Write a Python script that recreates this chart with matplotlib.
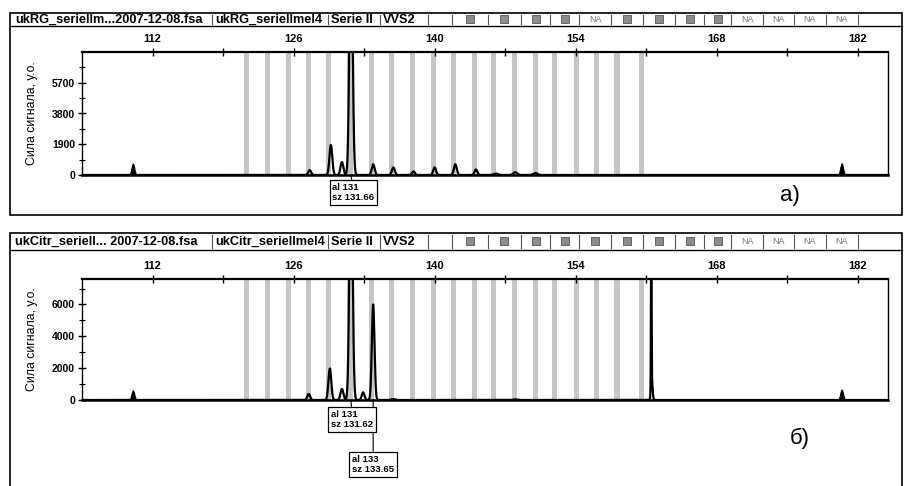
import matplotlib.pyplot as plt
import numpy as np
from matplotlib.patches import Rectangle
from matplotlib.lines import Line2D

W, H = 907, 486

# size scale (bp)
x_range = (105, 185)
x_major = [112, 126, 140, 154, 168, 182]
x_minor = [119, 133, 147, 161, 175]

# allele bins (bp)
bins = [121.3, 123.4, 125.45, 127.45, 129.5, 131.6, 133.7, 135.7, 137.8, 139.9,
        141.9, 144.0, 145.8, 147.9, 150.0, 151.9, 154.1, 156.1, 158.1, 160.5]

# panel a) peaks: position (bp), height (RFU), width (bp)
a_pos = [127.6, 129.7, 130.8, 131.7, 133.9, 135.9, 137.9, 140.0,
         142.05, 144.1, 146.1, 148.0, 150.0]
a_height = [300, 1850, 800, 16000, 660, 470, 220, 470,
            660, 340, 90, 170, 120]
a_sigma = [0.14, 0.14, 0.14, 0.15, 0.14, 0.14, 0.14, 0.14,
           0.14, 0.14, 0.2, 0.2, 0.2]
# size-standard spikes (drawn filled)
a_std_pos = [110.05, 180.4]
a_std_height = [700, 720]
a_yticks = [0, 1900, 3800, 5700]
a_ytick_step = 950

# panel б) peaks
b_pos = [127.5, 129.6, 130.8, 131.7, 132.9, 133.9, 135.9, 148.0,
         161.5, 161.55]
b_height = [380, 1980, 700, 16000, 480, 6000, 60, 40,
            9000, 1300]
b_sigma = [0.14, 0.14, 0.14, 0.15, 0.13, 0.13, 0.2, 0.2,
           0.03, 0.08]
b_std_pos = [110.05, 180.4]
b_std_height = [600, 650]
b_yticks = [0, 2000, 4000, 6000]
b_ytick_step = 1000

y_max = 7600

a_header = ["ukRG_seriellm...2007-12-08.fsa", "ukRG_seriellmel4", "Serie II", "VVS2", ""]
a_flags = ["sq", "sq", "sq", "sq", "NA", "sq", "sq", "sq", "sq", "NA", "NA", "NA", "NA"]
b_header = ["ukCitr_seriell... 2007-12-08.fsa", "ukCitr_seriellmel4", "Serie II", "VVS2", ""]
b_flags = ["sq"] * 9 + ["NA"] * 4

a_calls = [("al 131\nsz 131.66", 131.7)]
b_calls = [("al 131\nsz 131.62", 131.7), ("al 133\nsz 133.65", 133.9)]

FONT = ["Liberation Sans", "DejaVu Sans"]
NARROW = ["Liberation Sans Narrow", "Liberation Sans", "DejaVu Sans"]
plt.rcParams["font.family"] = FONT

fig = plt.figure(figsize=(W / 100, H / 100), dpi=100)
fig.patch.set_facecolor("white")


def fx(x):
    return x / W


def fy(y):
    return 1 - y / H


def trace(xs, pos, height, sigma):
    y = np.zeros_like(xs)
    for p, h, s in zip(pos, height, sigma):
        y += h * np.exp(-0.5 * ((xs - p) / s) ** 2)
    return y


def draw_frame(top, bottom, head_bottom, header, flags):
    fig.add_artist(Rectangle((fx(10), fy(bottom)), fx(892), (bottom - top) / H,
                             transform=fig.transFigure, fill=False, ec="black", lw=1.2))
    fig.add_artist(Line2D([fx(10), fx(902)], [fy(head_bottom)] * 2,
                          transform=fig.transFigure, color="black", lw=1.0))
    mid = (top + head_bottom) / 2
    text_edges = [12, 212, 328, 380, 428, 452]
    for i, lab in enumerate(header):
        fig.text(fx(text_edges[i] + 3), fy(mid + 0.5), lab, fontsize=9.2, fontweight="bold",
                 ha="left", va="center")
        fig.add_artist(Line2D([fx(text_edges[i + 1])] * 2, [fy(top + 2), fy(head_bottom - 2)],
                              transform=fig.transFigure, color="#555555", lw=0.8))
    flag_edges = [452, 488, 521, 550, 579, 611, 643, 675, 704, 731, 763, 794, 826, 858]
    for i, f in enumerate(flags):
        cx = (flag_edges[i] + flag_edges[i + 1]) / 2
        if f == "NA":
            fig.text(fx(cx), fy(mid), "NA", fontsize=6.5, color="#777777",
                     ha="center", va="center")
        else:
            fig.add_artist(Rectangle((fx(cx - 4), fy(mid + 4)), fx(8), 8 / H,
                                     transform=fig.transFigure, fc="#8c8c8c",
                                     ec="#555555", lw=0.6))
        fig.add_artist(Line2D([fx(flag_edges[i + 1])] * 2, [fy(top + 2), fy(head_bottom - 2)],
                              transform=fig.transFigure, color="#555555", lw=0.8))


def draw_panel(ax_top, ax_bottom, pos, height, sigma, std_pos, std_height,
               yticks, ystep, calls, call_offsets):
    ax = fig.add_axes([fx(82), fy(ax_bottom), fx(888 - 82), (ax_bottom - ax_top) / H])
    xs = np.linspace(x_range[0], x_range[1], 8001)
    for b in bins:
        ax.axvspan(b - 0.25, b + 0.25, color="#c6c6c6", lw=0, zorder=0)
    ax.plot(xs, trace(xs, pos, height, sigma), color="black", lw=1.6, zorder=2)
    std = trace(xs, std_pos, std_height, [0.14] * len(std_pos))
    ax.fill_between(xs, 0, std, color="black", lw=0.8, zorder=2)
    ax.set_xlim(*x_range)
    ax.set_ylim(0, y_max)

    ax.xaxis.tick_top()
    ax.set_xticks(x_major)
    ax.set_xticks(x_minor, minor=True)
    ax.tick_params(axis="x", which="both", direction="inout", length=6, width=1,
                   labelsize=8, pad=3)
    ax.set_yticks(yticks)
    ax.set_yticks(np.arange(0, y_max, ystep), minor=True)
    ax.tick_params(axis="y", which="major", direction="inout", length=6, width=1,
                   labelsize=7.5, pad=2)
    ax.tick_params(axis="y", which="minor", direction="inout", length=4, width=0.8)
    for lab in ax.get_xticklabels() + ax.get_yticklabels():
        lab.set_fontweight("bold")

    ax.spines["top"].set_linewidth(1.6)
    ax.spines["bottom"].set_linewidth(1.8)
    ax.spines["left"].set_linewidth(1.0)
    ax.spines["right"].set_linewidth(1.0)

    ax.set_ylabel("Сила сигнала, у.о.", fontsize=8.8, family=NARROW)
    ax.yaxis.set_label_coords(-0.055, 0.5)

    for k, ((txt, px), (dx, dy)) in enumerate(zip(calls, call_offsets)):
        ax.annotate(txt, xy=(px, 0), xycoords="data", xytext=(dx, dy),
                    textcoords="offset points", ha="center", va="top",
                    fontsize=6.8, fontweight="bold", multialignment="left",
                    bbox=dict(boxstyle="square,pad=0.3", fc="white", ec="black", lw=0.9),
                    arrowprops=dict(arrowstyle="-", lw=0.8, color="black",
                                    shrinkA=0, shrinkB=0),
                    annotation_clip=False, zorder=10 - k)
    return ax


draw_frame(13, 215, 26, a_header, a_flags)
draw_frame(233, 495, 250, b_header, b_flags)

draw_panel(52, 175, a_pos, a_height, a_sigma, a_std_pos, a_std_height,
           a_yticks, a_ytick_step, a_calls, [(1.8, -5.8)])
draw_panel(279, 400, b_pos, b_height, b_sigma, b_std_pos, b_std_height,
           b_yticks, b_ytick_step, b_calls, [(1.0, -7.0), (0.0, -39.4)])

fig.text(fx(790), fy(195), "a)", fontsize=16, ha="center", va="center")
fig.text(fx(800), fy(438), "б)", fontsize=16, ha="center", va="center")

fig.savefig("out.png", dpi=100)
